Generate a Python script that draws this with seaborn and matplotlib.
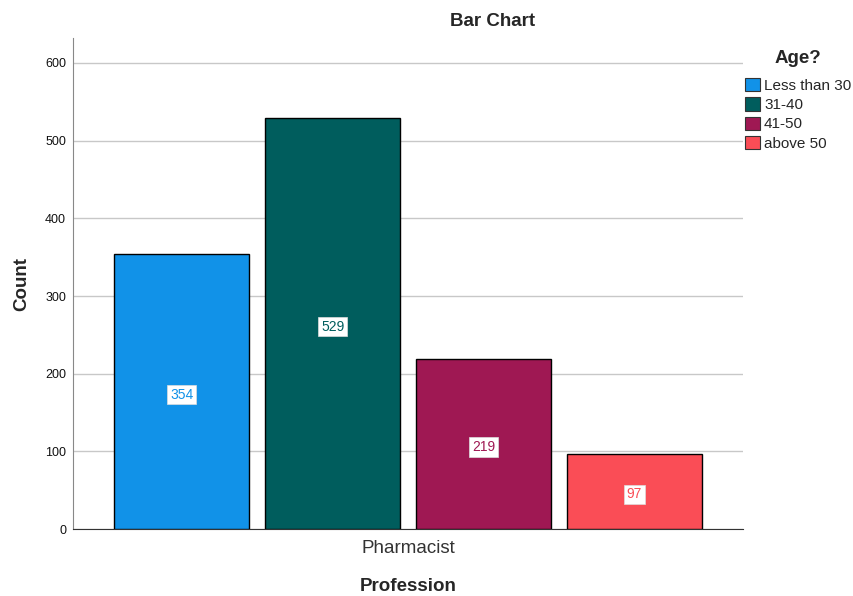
import matplotlib
matplotlib.use("Agg")
import matplotlib.pyplot as plt
import seaborn as sns
import pandas as pd

# Counts of respondents by age group
profession = ["Pharmacist"]
age_groups = ["Less than 30", "31-40", "41-50", "above 50"]
counts = [354, 529, 219, 97]
colors = ["#1192E8", "#005D5D", "#9F1853", "#FA4D56"]

df = pd.DataFrame({
    "Profession": profession * len(age_groups),
    "Age?": age_groups,
    "Count": counts,
})

sns.set_style("white")
plt.rcParams["font.family"] = ["Liberation Sans", "DejaVu Sans"]

fig = plt.figure(figsize=(8.54, 5.96), dpi=100)
ax = fig.add_axes([0.0855, 0.1124, 0.7845, 0.8236])

sns.barplot(data=df, x="Profession", y="Count", hue="Age?",
            hue_order=age_groups, palette=colors, saturation=1,
            width=0.9, gap=0.104,
            edgecolor="black", linewidth=1.0, ax=ax, zorder=3)

ax.set_ylim(0, 632)
ax.set_xlim(-0.5, 0.5)
ax.set_yticks([0, 100, 200, 300, 400, 500, 600])
ax.yaxis.grid(True, color="#c8c8c8", linewidth=1.0, zorder=0)
ax.set_axisbelow(True)
ax.tick_params(axis="y", labelsize=9, colors="#111111", length=0, pad=5)
ax.tick_params(axis="x", labelsize=13.5, colors="#333333", length=0, pad=8)

for s in ["top", "right"]:
    ax.spines[s].set_visible(False)
ax.spines["left"].set_color("#888888")
ax.spines["bottom"].set_color("#333333")

fig.text(493 / 854, 1 - 22 / 596, "Bar Chart", ha="center", va="center",
         fontsize=13.5, fontweight="bold")
ax.set_ylabel("Count", fontsize=13.5, fontweight="bold", labelpad=11)
ax.set_xlabel("Profession", fontsize=13.5, fontweight="bold", labelpad=15)

# value labels in white boxes at mid-height
for cont, col in zip(ax.containers, colors):
    for bar in cont:
        h = bar.get_height()
        ax.text(bar.get_x() + bar.get_width() / 2, h / 2 - 4, f"{int(round(h))}",
                ha="center", va="center", fontsize=10, color=col, zorder=5,
                bbox=dict(boxstyle="square,pad=0.2", facecolor="white",
                          edgecolor="#dddddd", linewidth=0.5))

handles, labels = ax.get_legend_handles_labels()
ax.legend_.remove()
leg = fig.legend(handles, labels, title="Age?", loc="upper left",
                 bbox_to_anchor=(745 / 854, 1 - 50 / 596), frameon=False,
                 fontsize=11, handlelength=0.95, handleheight=0.95,
                 handletextpad=0.3, labelspacing=0.29, borderaxespad=0.0,
                 borderpad=0.0)
leg.get_title().set_fontweight("bold")
leg.get_title().set_fontsize(13.5)
leg._legend_box.align = "center"
leg._legend_box.sep = 8
for p in leg.get_patches():
    p.set_edgecolor("#333333")
    p.set_linewidth(0.8)

fig.savefig("out.png", dpi=100)
